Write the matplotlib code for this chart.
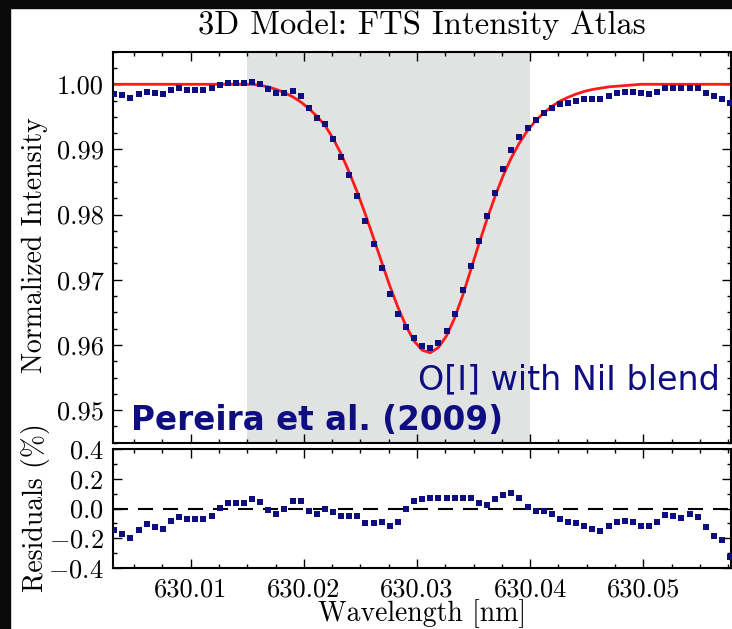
import matplotlib
matplotlib.use("Agg")
import matplotlib.pyplot as plt
from matplotlib.ticker import MultipleLocator, FixedLocator, FuncFormatter
from matplotlib.patches import Rectangle

plt.rcParams['font.family'] = 'serif'
plt.rcParams['font.serif'] = ['cmr10']
plt.rcParams['mathtext.fontset'] = 'cm'
plt.rcParams['axes.formatter.use_mathtext'] = True

# ---------------- data ----------------
wavelength = [
    630.00325, 630.00397, 630.00468, 630.00540, 630.00611, 630.00683, 630.00755,
    630.00826, 630.00898, 630.00969, 630.01041, 630.01113, 630.01184, 630.01256,
    630.01327, 630.01399, 630.01471, 630.01542, 630.01614, 630.01685, 630.01757,
    630.01829, 630.01900, 630.01972, 630.02043, 630.02115, 630.02187, 630.02258,
    630.02330, 630.02401, 630.02473, 630.02545, 630.02616, 630.02688, 630.02759,
    630.02831, 630.02903, 630.02974, 630.03046, 630.03117, 630.03189, 630.03261,
    630.03332, 630.03404, 630.03475, 630.03547, 630.03619, 630.03690, 630.03762,
    630.03833, 630.03905, 630.03977, 630.04048, 630.04120, 630.04191, 630.04263,
    630.04335, 630.04406, 630.04478, 630.04549, 630.04621, 630.04693, 630.04764,
    630.04836, 630.04907, 630.04979, 630.05051, 630.05122, 630.05194, 630.05265,
    630.05337, 630.05409, 630.05480, 630.05552, 630.05623, 630.05695, 630.05767,
]

observed = [
    0.99847, 0.99830, 0.99795, 0.99847, 0.99882, 0.99870, 0.99850, 0.99908,
    0.99939, 0.99910, 0.99910, 0.99910, 0.99940, 0.99985, 1.00015, 1.00015,
    1.00015, 1.00040, 1.00010, 0.99923, 0.99872, 0.99872, 0.99890, 0.99820,
    0.99641, 0.99489, 0.99387, 0.99156, 0.98885, 0.98609, 0.98287, 0.97904,
    0.97546, 0.97175, 0.96787, 0.96480, 0.96276, 0.96103, 0.95985, 0.95960,
    0.96035, 0.96215, 0.96480, 0.96838, 0.97211, 0.97597, 0.97980, 0.98337,
    0.98696, 0.98987, 0.99191, 0.99334, 0.99446, 0.99565, 0.99640, 0.99690,
    0.99720, 0.99750, 0.99780, 0.99780, 0.99780, 0.99820, 0.99872, 0.99880,
    0.99880, 0.99860, 0.99850, 0.99880, 0.99936, 0.99936, 0.99936, 0.99940,
    0.99940, 0.99870, 0.99820, 0.99770, 0.99720,
]

model = [
    1.0000, 1.0000, 1.0000, 1.0000, 1.0000, 1.0000, 1.0000, 1.0000,
    1.0000, 1.0000, 1.0000, 1.0000, 1.0000, 1.0000, 1.0000, 1.0000,
    1.0000, 1.0000, 0.99985, 0.9996, 0.9992, 0.9987, 0.9981, 0.9973,
    0.9963, 0.9951, 0.9937, 0.9917, 0.9893, 0.9865, 0.9834, 0.9800,
    0.9764, 0.9727, 0.9691, 0.9658, 0.9629, 0.9606, 0.9592, 0.9588,
    0.9596, 0.9614, 0.9641, 0.9676, 0.9715, 0.9755, 0.9793, 0.9828,
    0.9860, 0.9887, 0.9910, 0.9929, 0.9944, 0.9956, 0.9966, 0.9974,
    0.9980, 0.9985, 0.9989, 0.9992, 0.9994, 0.9996, 0.9997, 0.9998,
    0.9999, 1.0000, 1.0000, 1.0000, 1.0000, 1.0000, 1.0000, 1.0000,
    1.0000, 1.0000, 1.0000, 1.0000, 1.0000,
]

residuals = [
    -0.146, -0.169, -0.200, -0.146, -0.106, -0.128, -0.139, -0.083, -0.056, -0.072,
    -0.072, -0.072, -0.049, 0.002, 0.034, 0.034, 0.034, 0.067, 0.045, -0.009,
    -0.038, 0.000, 0.052, 0.052, -0.016, -0.038, 0.000, -0.022, -0.054, -0.054,
    -0.054, -0.099, -0.099, -0.088, -0.117, -0.090, -0.004, 0.052, 0.063, 0.070,
    0.070, 0.074, 0.070, 0.074, 0.070, 0.040, 0.022, 0.067, 0.090, 0.108,
    0.074, 0.011, -0.016, -0.016, -0.034, -0.072, -0.094, -0.099, -0.117, -0.139,
    -0.151, -0.117, -0.088, -0.083, -0.090, -0.117, -0.117, -0.094, -0.045, -0.049,
    -0.061, -0.038, -0.056, -0.124, -0.184, -0.213, -0.330,
]

shade_range = (630.015, 630.040)
x_limits = (630.00316, 630.05771)
intensity_ticks = [0.95, 0.96, 0.97, 0.98, 0.99, 1.00]
residual_ticks = [-0.4, -0.2, 0.0, 0.2, 0.4]
wavelength_ticks = [630.01, 630.02, 630.03, 630.04, 630.05]

# ---------------- figure ----------------
W, H = 732, 629
fig = plt.figure(figsize=(W / 100, H / 100), dpi=100, facecolor='white')

def px_axes(l, t, r, b):
    return [l / W, 1 - b / H, (r - l) / W, (b - t) / H]

ax1 = fig.add_axes(px_axes(113.3, 51.7, 730.5, 442.7))
ax2 = fig.add_axes(px_axes(113.3, 449.3, 730.5, 567.7), sharex=ax1)

navy = '#0e0e80'
ax1.axvspan(*shade_range, color='#e1e3e2', zorder=0, lw=0)
ax1.plot(wavelength, model, color='#ff1a1a', lw=2.0, zorder=2)
ax1.plot(wavelength, observed, 's', color=navy, ms=4.0, mew=0, zorder=3)

ax2.axhline(0.0, color='black', lw=1.5, linestyle=(0, (7.2, 4.8)), zorder=1)
ax2.plot(wavelength, residuals, 's', color=navy, ms=4.0, mew=0, zorder=3, clip_on=True)

ax1.set_xlim(*x_limits)
ax1.set_ylim(0.945, 1.005)
ax2.set_ylim(-0.4, 0.4)

ax1.yaxis.set_major_locator(FixedLocator(intensity_ticks))
ax1.yaxis.set_minor_locator(MultipleLocator(0.0025))
ax1.yaxis.set_major_formatter(FuncFormatter(lambda v, p: f"{v:.2f}"))
ax2.yaxis.set_major_locator(FixedLocator(residual_ticks))
ax2.yaxis.set_minor_locator(MultipleLocator(0.1))
ax2.yaxis.set_major_formatter(FuncFormatter(lambda v, p: f"${v:.1f}$"))
ax2.xaxis.set_major_locator(FixedLocator(wavelength_ticks))
ax2.xaxis.set_minor_locator(MultipleLocator(0.0025))
ax2.xaxis.set_major_formatter(FuncFormatter(lambda v, p: f"{v:.2f}"))

for ax in (ax1, ax2):
    for s in ax.spines.values():
        s.set_linewidth(1.5)
    ax.tick_params(which='both', direction='in', top=True, right=True, width=1.0)
    ax.tick_params(which='major', length=6.5, labelsize=19, pad=7)
    ax.tick_params(which='minor', length=3.2)
    ax.set_facecolor('white')
plt.setp(ax1.get_xticklabels(), visible=False)

fig.text(0.5764, 0.960, '3D Model: FTS Intensity Atlas', ha='center', va='center', fontsize=23.5)
fig.text(0.048, 1 - 245 / H, 'Normalized Intensity', rotation=90, ha='center', va='center', fontsize=20)
fig.text(0.048, 1 - 508 / H, 'Residuals (%)', rotation=90, ha='center', va='center', fontsize=20)
fig.text(0.5764, 1 - 614 / H, 'Wavelength [nm]', ha='center', va='center', fontsize=20)

ax1.text(0.0287, 0.0325, 'Pereira et al. (2009)', transform=ax1.transAxes, ha='left', va='baseline',
         fontsize=23.5, fontweight='bold', color=navy, family='DejaVu Sans', zorder=5)
ax1.text(0.983, 0.135, 'O[I] with NiI blend', transform=ax1.transAxes, ha='right', va='baseline',
         fontsize=24, color=navy, family='DejaVu Sans', zorder=5)

# dark slide borders around the screenshot
fig.patches.append(Rectangle((0, 0), 10 / W, 1, transform=fig.transFigure, color='#0a0a0a', zorder=10))
fig.patches.append(Rectangle((0, 1 - 8 / H), 1, 8 / H, transform=fig.transFigure, color='#0a0a0a', zorder=10))

fig.savefig('out.png', dpi=100, facecolor='white')
